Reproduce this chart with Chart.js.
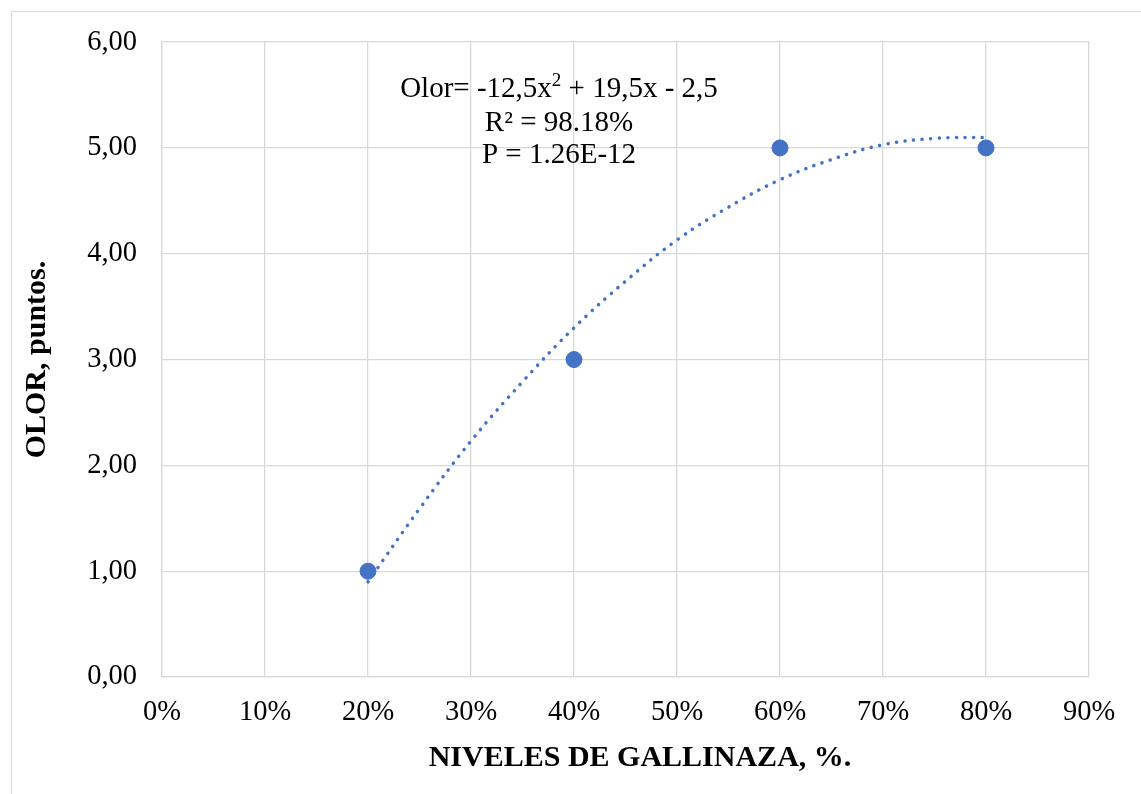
<!DOCTYPE html>
<html><head><meta charset="utf-8">
<script src="https://cdn.jsdelivr.net/npm/chart.js@4/dist/chart.umd.min.js"></script>
<style>
html,body{margin:0;padding:0;background:#fff;overflow:hidden;}
#frame{position:absolute;left:11px;top:11px;width:1200px;height:900px;border:1px solid #d9d9d9;box-sizing:border-box;}
#wrap{position:absolute;left:0;top:0;width:1141px;height:794px;}
</style></head>
<body>
<div id="frame"></div>
<div id="wrap"><canvas id="c" width="1141" height="794"></canvas></div>
<script>
// Observed data
const levels = [0.2, 0.4, 0.6, 0.8];
const olor = [1, 3, 5, 5];
// Trendline values
const trendX = [0.2, 0.25, 0.3, 0.35, 0.4, 0.45, 0.5, 0.55, 0.6, 0.65, 0.7, 0.75, 0.8];
const trendY = [0.90, 1.59, 2.23, 2.79, 3.30, 3.74, 4.13, 4.44, 4.70, 4.89, 5.03, 5.09, 5.10];
const xTicks = [0,0.1,0.2,0.3,0.4,0.5,0.6,0.7,0.8,0.9];
const yTicks = [0,1,2,3,4,5,6];
const xTitle = 'NIVELES DE GALLINAZA, %.';
const yTitle = 'OLOR, puntos.';
const eqLines = ['Olor= -12,5x', '2', ' + 19,5x - 2,5'];
const r2Text = 'R² = 98.18%';
const pText = 'P = 1.26E-12';

const FONT = '"Liberation Serif", "Times New Roman", serif';
const BLUE = '#4472C4';

const textPlugin = {
  id: 'textPlugin',
  afterDraw(chart) {
    const ctx = chart.ctx;
    const ca = chart.chartArea;
    ctx.save();
    ctx.fillStyle = '#000';
    // axis titles
    ctx.font = 'bold 30px ' + FONT;
    ctx.textAlign = 'center';
    ctx.textBaseline = 'middle';
    ctx.fillText(xTitle, 640, 758);
    ctx.save();
    ctx.translate(37, (ca.top + ca.bottom) / 2);
    ctx.rotate(-Math.PI / 2);
    ctx.fillText(yTitle, 0, 0);
    ctx.restore();
    // equation annotation
    const cx = 559;
    ctx.font = '29px ' + FONT;
    const w1 = ctx.measureText(eqLines[0]).width;
    const w3 = ctx.measureText(eqLines[2]).width;
    ctx.font = '19px ' + FONT;
    const w2 = ctx.measureText(eqLines[1]).width;
    let x0 = cx - (w1 + w2 + w3) / 2;
    ctx.textAlign = 'left';
    ctx.textBaseline = 'alphabetic';
    ctx.font = '29px ' + FONT;
    ctx.fillText(eqLines[0], x0, 97);
    ctx.font = '19px ' + FONT;
    ctx.fillText(eqLines[1], x0 + w1, 86);
    ctx.font = '29px ' + FONT;
    ctx.fillText(eqLines[2], x0 + w1 + w2, 97);
    ctx.textAlign = 'center';
    ctx.fillText(r2Text, cx, 131);
    ctx.fillText(pText, cx, 163);
    ctx.restore();
  }
};

new Chart(document.getElementById('c'), {
  type: 'scatter',
  data: {
    datasets: [
      {
        label: 'Tendencia',
        type: 'line',
        data: trendX.map((x, i) => ({x: x, y: trendY[i]})),
        borderColor: BLUE,
        borderWidth: 3.5,
        borderDash: [0.1, 8.5],
        borderCapStyle: 'round',
        pointRadius: 0,
        tension: 0.4,
        fill: false,
        order: 2
      },
      {
        label: 'Olor',
        data: levels.map((x, i) => ({x: x, y: olor[i]})),
        backgroundColor: BLUE,
        borderColor: BLUE,
        pointRadius: 8,
        pointHoverRadius: 8,
        order: 1
      }
    ]
  },
  plugins: [textPlugin],
  options: {
    responsive: false,
    animation: false,
    events: [],
    layout: {padding: {left: 0, right: 52, top: 41, bottom: 0}},
    plugins: {legend: {display: false}, tooltip: {enabled: false}},
    scales: {
      x: {
        type: 'linear', min: 0, max: 0.9,
        afterBuildTicks(s) { s.ticks = xTicks.map(v => ({value: v})); },
        afterFit(s) { s.height = 117; },
        grid: {color: '#d9d9d9', lineWidth: 1.3, drawTicks: false},
        border: {color: '#d9d9d9', width: 1.3},
        ticks: {
          color: '#000', font: {family: FONT, size: 28.5}, padding: 18,
          maxRotation: 0, autoSkip: false,
          callback: v => Math.round(v * 100) + '%'
        }
      },
      y: {
        min: 0, max: 6,
        afterBuildTicks(s) { s.ticks = yTicks.map(v => ({value: v})); },
        afterFit(s) { s.width = 162; },
        grid: {color: '#d9d9d9', lineWidth: 1.3, drawTicks: false},
        border: {color: '#d9d9d9', width: 1.3},
        ticks: {
          color: '#000', font: {family: FONT, size: 28.5}, padding: 25,
          callback: v => v.toFixed(2).replace('.', ',')
        }
      }
    }
  }
});
</script>
</body></html>
